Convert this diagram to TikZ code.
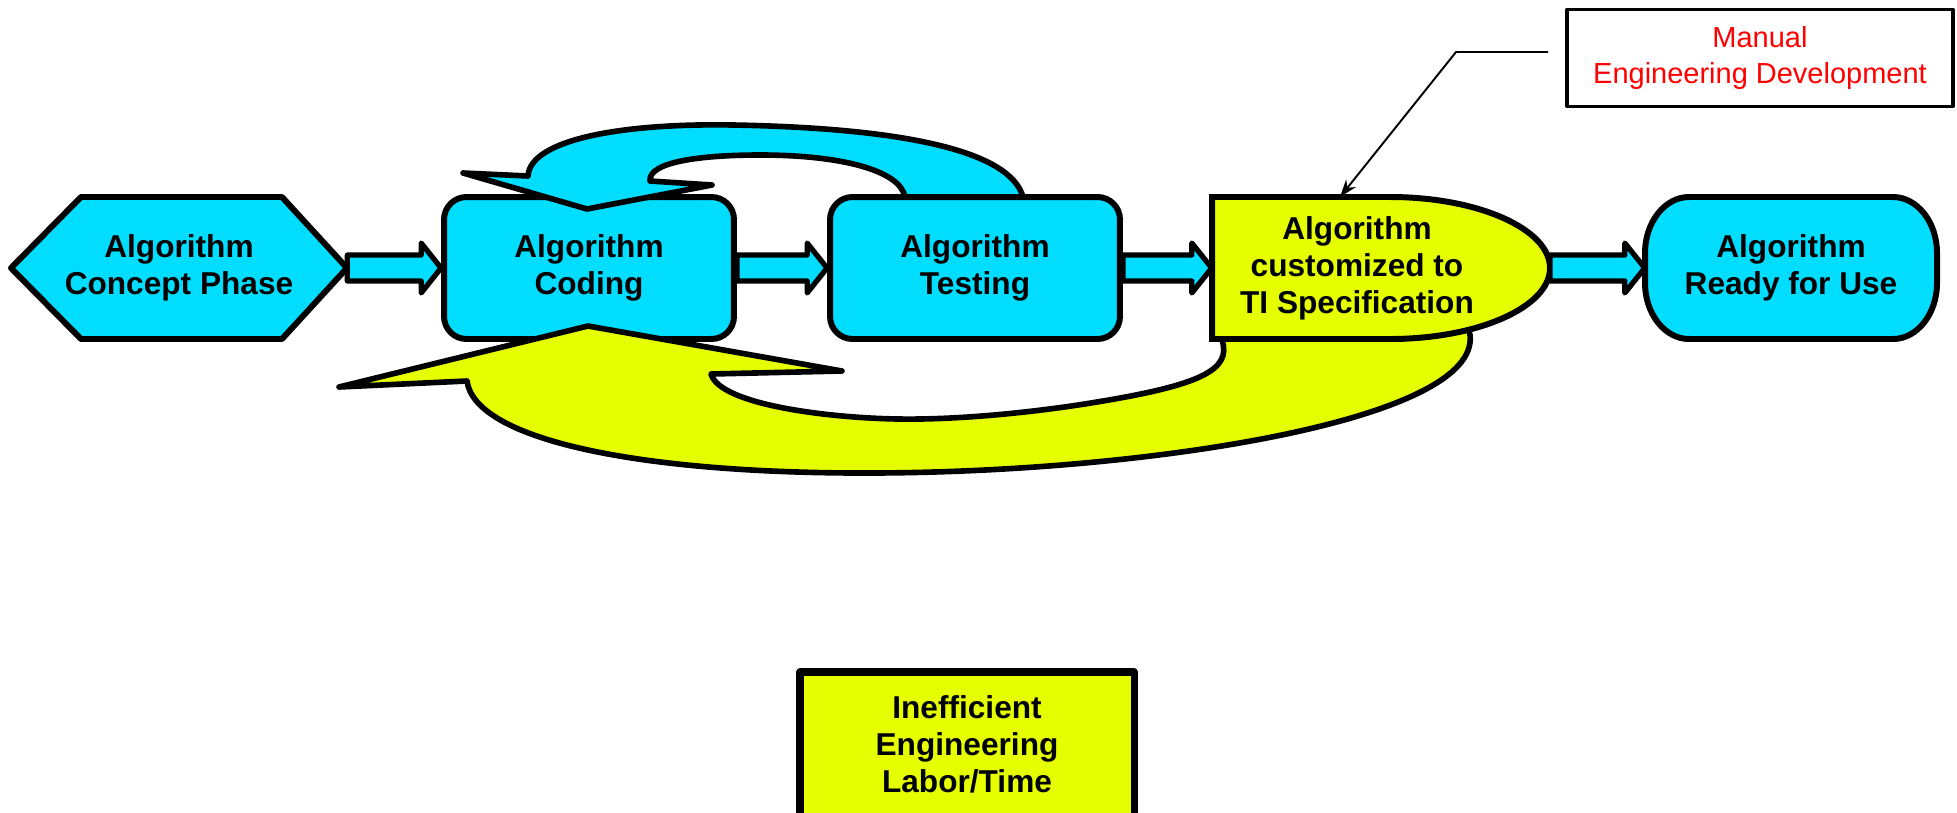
\documentclass[tikz,border=0pt]{standalone}
\usepackage{fontspec}
\setsansfont{Liberation Sans}
\usetikzlibrary{calc}
\usetikzlibrary{arrows.meta}

\definecolor{flowcyan}{RGB}{0,221,255}
\definecolor{flowlime}{RGB}{229,255,0}

\begin{document}
\begin{tikzpicture}[
    x=0.02cm, y=-0.02cm,
    line join=round,
    font=\sffamily\bfseries\fontsize{18pt}{21pt}\selectfont
]
\tikzset{
    stagebox/.style = {draw=black, line width=3.4pt, fill=flowcyan},
    stagelabel/.style = {align=center, inner sep=0pt, minimum height=2.84cm},
    roundbox/.style = {stagebox, stagelabel, rounded corners=0.45cm, minimum width=5.8cm},
    loopblue/.style = {draw=black, line width=3.2pt, fill=flowcyan},
    loopyellow/.style = {draw=black, line width=3.2pt, fill=flowlime},
    flowarr/.style = {draw=black, line width=3pt, fill=flowcyan},
    notebox/.style = {draw=black, line width=1.8pt, text=red, align=center,
        font=\sffamily\mdseries\fontsize{16.5pt}{20pt}\selectfont,
        minimum width=7.72cm, minimum height=1.94cm},
    leader/.style = {line width=1.1pt, -{Stealth[length=10pt,width=7pt]}}
}
\useasboundingbox (0,0) rectangle (1957,812);

% first two stages
\draw[stagebox] (11,268) -- (81,197) -- (282,197) -- (347,268) -- (282,339) -- (81,339) -- cycle;
\node[stagelabel, minimum width=6.72cm] (concept) at (179,268) {Algorithm\\Concept Phase};
\node[roundbox] (coding) at (589,268) {Algorithm\\Coding};

% rework loops
\draw[loopblue] (1023,197) .. controls (1010,150) and (900,128) .. (733,125)
    .. controls (620,123) and (530,140) .. (528,176)
    -- (463,173) -- (587,209) -- (712,185) -- (650,181)
    .. controls (648,162) and (700,155) .. (760,155)
    .. controls (840,155) and (900,170) .. (905,197)
    -- (905,230) -- (1023,230) -- cycle;
\draw[loopyellow] (467,381) .. controls (475,440) and (640,474) .. (874,473)
    .. controls (1150,472) and (1480,420) .. (1470,335)
    -- (1460,300) -- (1225,300) -- (1222,340)
    .. controls (1232,370) and (1200,385) .. (1097,402)
    .. controls (1037,412) and (960,420) .. (898,419)
    .. controls (830,418) and (720,405) .. (711,374)
    -- (842,371) -- (588,326) -- (339,387) -- cycle;

% remaining stages
\node[roundbox] (testing) at (975,268) {Algorithm\\Testing};
\draw[stagebox, fill=flowlime, line join=miter] (1212,197) -- (1390,197)
    .. controls (1478,197) and (1550,229) .. (1550,268)
    .. controls (1550,307) and (1478,339) .. (1390,339) -- (1212,339) -- cycle;
\node[stagelabel, minimum width=5.8cm] (custom) at (1357,268) {Algorithm\\customized to\\TI Specification};
\coordinate (customTip) at (1550,268);
\coordinate (customTop) at (1340,197);
\draw[stagebox] (1689,197) -- (1893,197) .. controls (1917,197) and (1937,222) .. (1937,253)
    -- (1937,283) .. controls (1937,314) and (1917,339) .. (1893,339)
    -- (1689,339) .. controls (1665,339) and (1645,314) .. (1645,283)
    -- (1645,253) .. controls (1645,222) and (1665,197) .. (1689,197) -- cycle;
\node[stagelabel, minimum width=5.84cm] (ready) at (1791,268) {Algorithm\\Ready for Use};

% block arrows between stages
\foreach \src/\dst in {concept.east/coding.west, coding.east/testing.west,
                       testing.east/custom.west, customTip/ready.west}
    \draw[flowarr] let \p1=(\src), \p2=(\dst) in
        (\x1,\y1+7.4pt) -- (\x2-11.3pt,\y1+7.4pt) -- (\x2-11.3pt,\y1+14.2pt) -- (\x2,\y1)
        -- (\x2-11.3pt,\y1-14.2pt) -- (\x2-11.3pt,\y1-7.4pt) -- (\x1,\y1-7.4pt) -- cycle;

% callout
\node[notebox] (note) at (1760,58) {Manual\\Engineering Development};
\coordinate (noteTail) at (1548,52);
\coordinate (noteBend) at (1456,52);
\draw[leader] (noteTail) -- (noteBend) -- (customTop);

% bottom label
\draw[draw=black, line width=4pt, fill=flowlime] (800,672) rectangle (1134,840);
\node[align=center, inner sep=0pt] (labor) at (967,744) {Inefficient\\Engineering\\Labor/Time};
\end{tikzpicture}
\end{document}
